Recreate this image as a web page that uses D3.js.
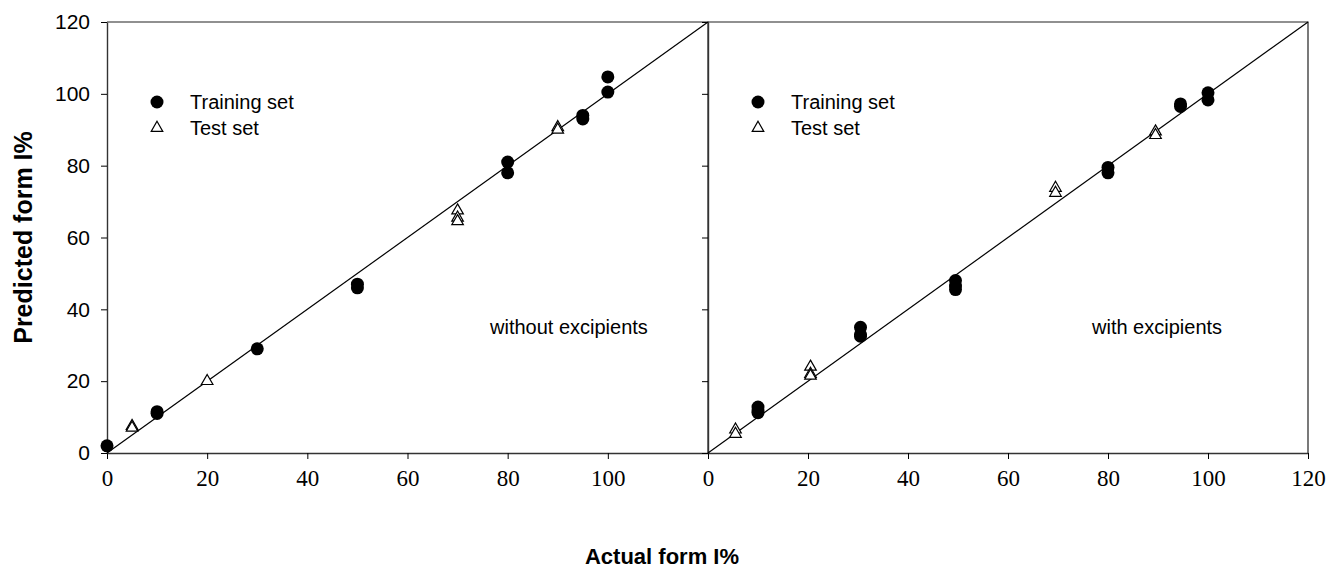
<!DOCTYPE html>
<html>
<head>
<meta charset="utf-8">
<script src="https://cdn.jsdelivr.net/npm/d3@7"></script>
<style>
  body { margin: 0; background: #fff; }
</style>
</head>
<body>
<div id="chart"></div>
<script>
// chart size
var svgWidth = 1330;
var svgHeight = 569;

var sans = "Liberation Sans, Arial, sans-serif";
var serif = "Liberation Serif, Times New Roman, serif";

// data: [actual, predicted]
var trainWithout = [[0, 2], [10, 11], [10, 11.5], [30, 29], [50, 46], [50, 47], [80, 81], [80, 78],
                    [95, 94], [95, 93], [100, 104.7], [100, 100.5]];
var testWithout = [[5, 7.5], [5, 7], [20, 20], [70, 67.5], [70, 65.5], [70, 64.5], [90, 90.7], [90, 90]];

var trainWith = [[10, 12.8], [10, 11.7], [10, 11.2], [30.5, 35], [30.5, 33], [30.5, 32.5],
                 [49.5, 48], [49.5, 46.5], [49.5, 45.5], [80, 79.5], [80, 78],
                 [94.5, 97.2], [94.5, 96.5], [100, 100.3], [100, 98.3]];
var testWith = [[5.5, 6.5], [5.5, 5.3], [20.5, 24], [20.5, 22], [20.5, 21.5],
                [69.5, 73.8], [69.5, 72.4], [89.5, 89.5], [89.5, 88.5]];

var yTicks = [0, 20, 40, 60, 80, 100, 120];
var xTicksLeft = [0, 20, 40, 60, 80, 100];
var xTicksRight = [0, 20, 40, 60, 80, 100, 120];
var legendNames = ["Training set", "Test set"];
var panelNotes = ["without excipients", "with excipients"];

var svg = d3.select("#chart").append("svg")
    .attr("width", svgWidth)
    .attr("height", svgHeight);

var yScale = d3.scaleLinear().domain([0, 120]).range([453, 22]);

var panels = [
  {x: d3.scaleLinear().domain([0, 120]).range([107, 708]), train: trainWithout, test: testWithout,
   xticks: xTicksLeft, yLabels: true, note: panelNotes[0], noteX: 490},
  {x: d3.scaleLinear().domain([0, 120]).range([708, 1308]), train: trainWith, test: testWith,
   xticks: xTicksRight, yLabels: false, note: panelNotes[1], noteX: 1092}
];

var tri = d3.symbol().type(d3.symbolTriangle).size(58);

panels.forEach(function(p) {
    var g = svg.append("g");
    var x0 = p.x.range()[0], x1 = p.x.range()[1];

    // frame (top and right)
    g.append("path")
        .attr("d", `M${x0},${yScale(120)}H${x1}V${yScale(0)}`)
        .attr("fill", "none")
        .attr("stroke", "#222")
        .attr("stroke-width", 1.2);

    // x axis
    var xAxis = d3.axisBottom(p.x).tickValues(p.xticks).tickSize(6).tickSizeOuter(0).tickPadding(11)
        .tickFormat(d3.format("d"));
    var gx = g.append("g")
        .attr("transform", `translate(0, ${yScale(0)})`)
        .call(xAxis);
    gx.select(".domain").attr("stroke", "#333").attr("stroke-width", 1.6);
    gx.selectAll("text")
        .style("font-family", serif)
        .style("font-size", "23px");

    // y axis
    var yAxis = d3.axisLeft(yScale).tickValues(yTicks).tickSize(6).tickSizeOuter(0).tickPadding(11)
        .tickFormat(p.yLabels ? d3.format("d") : "");
    var gy = g.append("g")
        .attr("transform", `translate(${x0}, 0)`)
        .call(yAxis);
    gy.select(".domain").attr("stroke", "#333").attr("stroke-width", 1.4);
    gy.selectAll("text")
        .style("font-family", sans)
        .style("font-size", "21px");

    // 1:1 line
    g.append("line")
        .attr("x1", p.x(0)).attr("y1", yScale(0))
        .attr("x2", p.x(120)).attr("y2", yScale(120))
        .attr("stroke", "#000")
        .attr("stroke-width", 1.2);

    // training points
    g.append("g").selectAll("circle")
        .data(p.train)
        .enter()
        .append("circle")
        .attr("cx", d => p.x(d[0]))
        .attr("cy", d => yScale(d[1]))
        .attr("r", 6.5)
        .attr("fill", "#000");

    // test points
    g.append("g").selectAll("path")
        .data(p.test)
        .enter()
        .append("path")
        .attr("d", tri)
        .attr("transform", d => `translate(${p.x(d[0])}, ${yScale(d[1])})`)
        .attr("fill", "#fff")
        .attr("stroke", "#000")
        .attr("stroke-width", 1.2);

    // legend
    var lx = x0 + 50;
    g.append("circle").attr("cx", lx).attr("cy", 102).attr("r", 6.5).attr("fill", "#000");
    g.append("path").attr("d", tri)
        .attr("transform", `translate(${lx}, 128)`)
        .attr("fill", "#fff").attr("stroke", "#000").attr("stroke-width", 1.2);
    legendNames.forEach(function(name, i) {
        g.append("text")
            .attr("x", lx + 33)
            .attr("y", 102 + i * 26)
            .attr("dy", "0.35em")
            .style("font-family", sans)
            .style("font-size", "20px")
            .text(name);
    });

    // panel note
    g.append("text")
        .attr("x", p.noteX)
        .attr("y", 327)
        .attr("dy", "0.35em")
        .style("font-family", sans)
        .style("font-size", "20px")
        .text(p.note);
});

// axis titles
svg.append("text")
    .attr("transform", `translate(32, ${(yScale(0) + yScale(120)) / 2}) rotate(-90)`)
    .attr("text-anchor", "middle")
    .style("font-family", sans)
    .style("font-size", "25px")
    .style("font-weight", "bold")
    .text("Predicted form I%");

svg.append("text")
    .attr("x", 662)
    .attr("y", 564)
    .attr("text-anchor", "middle")
    .style("font-family", sans)
    .style("font-size", "22px")
    .style("font-weight", "bold")
    .text("Actual form I%");
</script>
</body>
</html>
